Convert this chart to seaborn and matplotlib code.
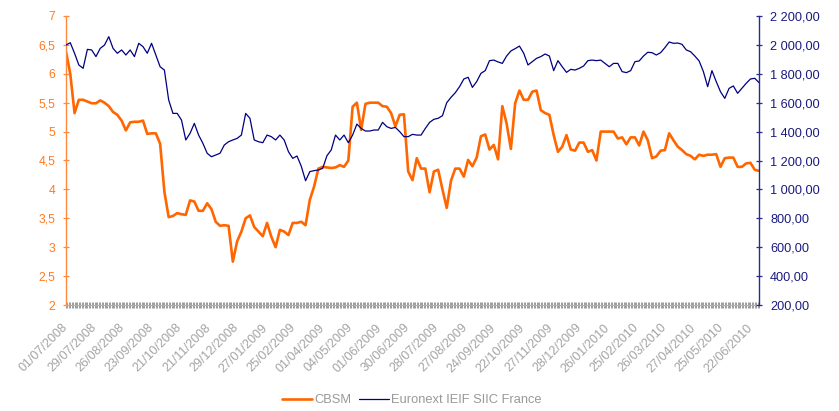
import numpy as np
import pandas as pd
import matplotlib
matplotlib.use('Agg')
import matplotlib.pyplot as plt
import seaborn as sns
from matplotlib.ticker import FuncFormatter

# 487 séances du 01/07/2008 au 30/06/2010, cours relevés une séance sur trois
nb_seances = 487
pas = 3

dates_affichees = ['01/07/2008', '29/07/2008', '26/08/2008', '23/09/2008', '21/10/2008',
                   '21/11/2008', '29/12/2008', '27/01/2009', '25/02/2009', '01/04/2009',
                   '04/05/2009', '01/06/2009', '30/06/2009', '28/07/2009', '27/08/2009',
                   '24/09/2009', '22/10/2009', '27/11/2009', '28/12/2009', '26/01/2010',
                   '25/02/2010', '26/03/2010', '27/04/2010', '25/05/2010', '22/06/2010']

cbsm = [6.38, 6.0, 5.32, 5.55, 5.55, 5.52, 5.49, 5.49, 5.54, 5.5,
        5.44, 5.34, 5.29, 5.19, 5.02, 5.16, 5.17, 5.17, 5.19, 4.96,
        4.97, 4.97, 4.79, 3.96, 3.52, 3.54, 3.59, 3.57, 3.56, 3.81,
        3.79, 3.63, 3.63, 3.76, 3.66, 3.44, 3.37, 3.38, 3.37, 2.75,
        3.1, 3.27, 3.5, 3.55, 3.35, 3.27, 3.19, 3.42, 3.18, 3.0,
        3.3, 3.27, 3.21, 3.42, 3.42, 3.44, 3.38, 3.82, 4.05, 4.36,
        4.39, 4.38, 4.37, 4.38, 4.42, 4.39, 4.5, 5.43, 5.5, 5.03,
        5.48, 5.5, 5.5, 5.5, 5.44, 5.43, 5.32, 5.09, 5.29, 5.3,
        4.31, 4.16, 4.54, 4.36, 4.36, 3.95, 4.31, 4.34, 4.0, 3.68,
        4.15, 4.36, 4.36, 4.22, 4.51, 4.4, 4.55, 4.92, 4.95, 4.69,
        4.77, 4.52, 5.44, 5.14, 4.7, 5.49, 5.71, 5.55, 5.55, 5.69,
        5.71, 5.37, 5.32, 5.29, 4.94, 4.65, 4.74, 4.94, 4.69, 4.67,
        4.81, 4.81, 4.65, 4.68, 4.5, 5.0, 5.0, 5.0, 5.0, 4.88,
        4.9, 4.78, 4.9, 4.9, 4.76, 5.0, 4.85, 4.54, 4.57, 4.67,
        4.68, 4.97, 4.85, 4.74, 4.68, 4.61, 4.58, 4.52, 4.6, 4.58,
        4.6, 4.6, 4.61, 4.39, 4.54, 4.55, 4.55, 4.39, 4.39, 4.45,
        4.46, 4.34, 4.32]

siic = [1999, 2015, 1942, 1861, 1838, 1969, 1965, 1919, 1976, 1999,
        2057, 1976, 1942, 1965, 1930, 1965, 1919, 2011, 1988, 1942,
        2011, 1930, 1849, 1826, 1619, 1526, 1526, 1480, 1342, 1388,
        1457, 1376, 1319, 1250, 1226, 1238, 1250, 1307, 1330, 1342,
        1353, 1376, 1526, 1492, 1342, 1330, 1323, 1376, 1365, 1342,
        1376, 1342, 1261, 1215, 1231, 1160, 1060, 1123, 1130, 1134,
        1146, 1233, 1273, 1376, 1342, 1376, 1323, 1376, 1452, 1422,
        1404, 1404, 1411, 1411, 1464, 1434, 1422, 1429, 1400, 1365,
        1365, 1381, 1376, 1376, 1422, 1464, 1485, 1492, 1510, 1600,
        1637, 1669, 1711, 1764, 1776, 1706, 1746, 1803, 1822, 1891,
        1895, 1882, 1872, 1923, 1958, 1974, 1992, 1942, 1861, 1884,
        1907, 1919, 1937, 1923, 1822, 1891, 1849, 1810, 1831, 1826,
        1838, 1854, 1891, 1895, 1891, 1895, 1872, 1849, 1872, 1872,
        1815, 1808, 1822, 1884, 1889, 1923, 1949, 1946, 1930, 1946,
        1981, 2020, 2011, 2013, 2004, 1965, 1953, 1923, 1889, 1815,
        1711, 1822, 1746, 1676, 1630, 1699, 1716, 1665, 1699, 1734,
        1764, 1769, 1739]

df = pd.DataFrame({'seance': np.arange(len(cbsm)) * pas,
                   'CBSM': cbsm,
                   'Euronext IEIF SIIC France': siic})

orange = '#FF6600'
navy = '#000080'
gris = '#A3A3A3'

sns.set_style('white')
plt.rcParams['font.family'] = ['Liberation Sans', 'DejaVu Sans']

fig = plt.figure(figsize=(8.39, 4.11), dpi=100)
ax = fig.add_axes([66/839, 1 - 305/411, (759 - 66)/839, (305 - 16)/411])

sns.lineplot(data=df, x='seance', y='CBSM', color=orange, lw=1.9, ax=ax,
             label='CBSM', legend=False)
ax2 = ax.twinx()
sns.lineplot(data=df, x='seance', y='Euronext IEIF SIIC France', color=navy, lw=0.9,
             ax=ax2, label='Euronext IEIF SIIC France', legend=False)

ax.set_xlim(0, nb_seances - 1)
ax.set_ylim(2, 7)
ax2.set_ylim(200, 2200)
ax.set_xlabel('')
ax.set_ylabel('')
ax2.set_ylabel('')

# axe des dates : un trait par séance, une date toutes les 20 séances
ax.set_xticks(range(0, 20 * len(dates_affichees), 20))
ax.set_xticklabels(dates_affichees, rotation=45, ha='right', va='center',
                   rotation_mode='anchor', fontsize=9, color=gris)
ax.set_xticks(range(nb_seances), minor=True)
ax.tick_params(axis='x', which='both', bottom=True, direction='inout', length=5,
               width=0.7, color='#9A9A9A', pad=12.5)

ax.set_yticks(np.arange(2, 7.01, 0.5))
ax.yaxis.set_major_formatter(FuncFormatter(lambda v, p: f'{v:g}'.replace('.', ',')))
ax.tick_params(axis='y', left=True, direction='inout', length=5, width=0.9,
               color='#FF8A3D', labelcolor='#FF7A22', labelsize=8.8, pad=5)

ax2.set_yticks(range(200, 2201, 200))
ax2.yaxis.set_major_formatter(
    FuncFormatter(lambda v, p: f'{v:,.2f}'.replace(',', ' ').replace('.', ',')))
ax2.tick_params(axis='y', right=True, direction='inout', length=5, width=0.9,
                color='#2A2A90', labelcolor='#1A1A80', labelsize=9.2, pad=5.5)

for a in (ax, ax2):
    a.spines['top'].set_visible(False)
ax.spines['right'].set_visible(False)
ax2.spines['left'].set_visible(False)
ax2.spines['bottom'].set_visible(False)
ax.spines['left'].set_color('#FF8A3D')
ax.spines['left'].set_linewidth(1.0)
ax.spines['bottom'].set_color('#B0B0B0')
ax2.spines['right'].set_color('#2A2A90')
ax2.spines['right'].set_linewidth(1.0)

lignes = [ax.get_lines()[0], ax2.get_lines()[0]]
fig.legend(lignes, [l.get_label() for l in lignes], loc='center',
           bbox_to_anchor=(412/839, 1 - 400/411), ncol=2, frameon=False,
           fontsize=9.3, labelcolor='#999999', handlelength=2.3,
           handletextpad=0.2, columnspacing=0.6)

fig.savefig('out.png', dpi=100)
